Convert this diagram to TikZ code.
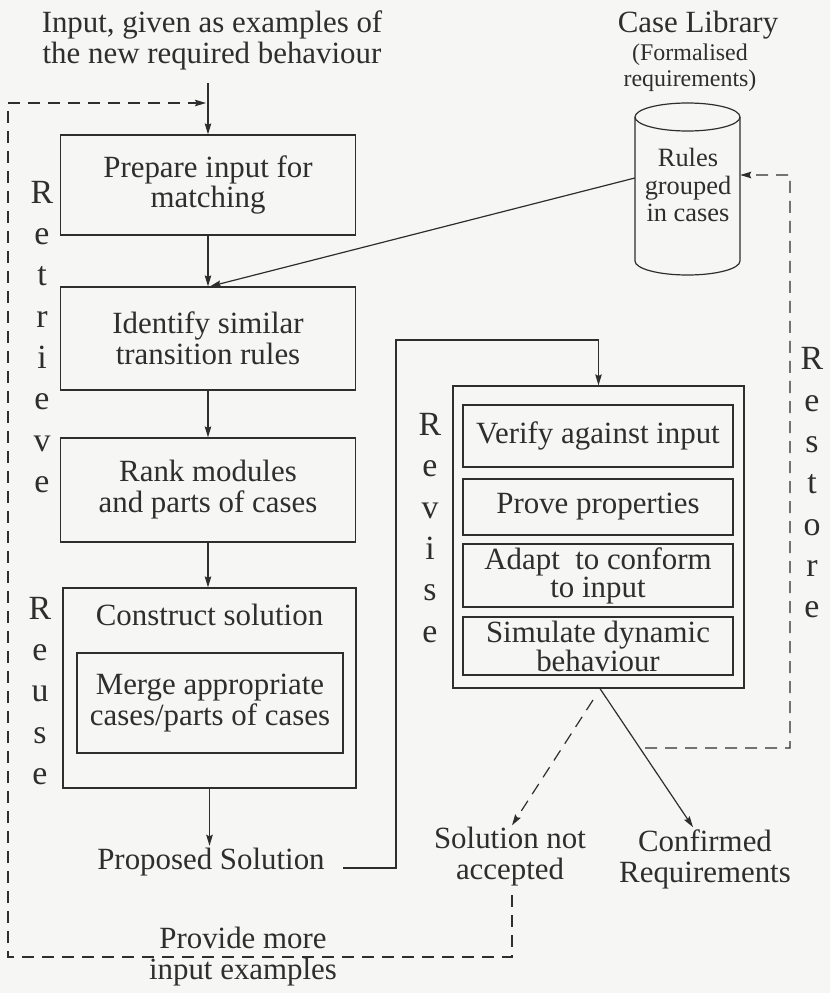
\documentclass[tikz,border=0pt]{standalone}
\usepackage{fontspec}
\setmainfont{Liberation Serif}
\usetikzlibrary{arrows.meta}
\definecolor{ink}{HTML}{2E2E2E}
\definecolor{paper}{HTML}{F6F6F4}
\newcommand\mainfont{\fontsize{31}{31}\selectfont}
\newcommand\letterfont{\fontsize{34}{41.5}\selectfont}
\begin{document}
\begin{tikzpicture}[x=1bp,y=-1bp,
  every node/.style={text=ink, font=\mainfont, align=center},
  box/.style={draw=ink, line width=1.2bp, inner sep=0pt},
  label/.style={inner sep=2bp},
  stack/.style={font=\letterfont, inner sep=0pt},
  conn/.style={draw=ink, line width=1.2bp},
  tip/.style={-{Stealth[length=11bp, width=6.5bp, inset=1.5bp]}},
  arr/.style={conn, tip},
  loop/.style={conn, dash pattern=on 12bp off 8bp}]
  \fill[paper] (0,0) rectangle (830,993);
  \useasboundingbox (0,0) rectangle (830,993);

  % input text and case library
  \node[label] (input) at (212,40) {Input, given as examples of\\the new required behaviour};
  \node[label] (lib) at (698,25) {Case Library};
  \node[label, font=\fontsize{24}{26}\selectfont] (libsub) at (690,68) {(Formalised\\requirements)};

  % the case library drawn as a cylinder
  \draw[conn] (635,117) -- (635,261) arc[start angle=180, end angle=0, x radius=52.5, y radius=14] -- (740,117);
  \draw[conn] (687.5,117) ellipse[x radius=52.5, y radius=14];
  \node[minimum width=105bp, minimum height=144bp, inner sep=0pt] (cyl) at (687.5,189) {};
  \node[font=\fontsize{26.5}{27.5}\selectfont] (rules) at (688,185) {Rules\\grouped\\in cases};

  % retrieve and reuse steps
  \node[box, minimum width=295bp, minimum height=100bp] (prep) at (208,185) {Prepare input for\\matching};
  \node[box, minimum width=295bp, minimum height=103bp] (ident) at (208,338.5) {Identify similar\\transition rules};
  \node[box, minimum width=295bp, minimum height=104bp] (rank) at (208,490) {Rank modules\\and parts of cases};
  \node[box, minimum width=293bp, minimum height=200bp] (cons) at (209.5,688) {};
  \node (constext) at (209.5,615) {Construct solution};
  \node[box, minimum width=266bp, minimum height=100bp] (merge) at (210,703) {Merge appropriate\\cases/parts of cases};
  \node[label] (prop) at (211,862) {Proposed Solution};

  % revise steps
  \node[box, minimum width=291bp, minimum height=302bp] (rev) at (598.5,537) {};
  \node[box, minimum width=270bp, minimum height=62bp] (verify) at (598,436) {Verify against input};
  \node[box, minimum width=270bp, minimum height=56bp] (prove) at (598,507) {Prove properties};
  \node[box, minimum width=270bp, minimum height=63bp, font=\fontsize{31}{26}\selectfont] (adapt) at (598,575.5) {Adapt \ to conform\\to input};
  \node[box, minimum width=270bp, minimum height=58bp, font=\fontsize{31}{23}\selectfont] (sim) at (598,646) {Simulate dynamic\\behaviour};

  % outcomes
  \node[label] (rej) at (510,857) {Solution not\\accepted};
  \node[label] (conf) at (705,859) {Confirmed\\Requirements};
  \node[label] (more) at (243,957) {Provide more\\input examples};

  % phase names
  \node[stack] (retrieve) at (42,337) {R\\e\\t\\r\\i\\e\\v\\e};
  \node[stack] (reuse) at (40,691) {R\\e\\u\\s\\e};
  \node[stack] (revise) at (430,528) {R\\e\\v\\i\\s\\e};
  \node[stack] (restore) at (812,483) {R\\e\\s\\t\\o\\r\\e};

  % main flow
  \coordinate (inTop) at (208,83);
  \draw[arr] (inTop) -- (prep.north);
  \draw[arr] (prep.south) -- (ident.north);
  \draw[arr] ([yshift=11bp]cyl.west) -- ([xshift=2bp]ident.north);
  \draw[arr] (ident.south) -- (rank.north);
  \draw[arr] (rank.south) -- (rank.south |- cons.north);
  \draw[arr] (cons.south) -- (cons.south |- prop.north);
  \coordinate (propOut) at (343,868);
  \coordinate (upCorner) at (396,340);
  \draw[arr] (propOut) -| (upCorner) -| (rev.north);

  % results of revising
  \coordinate (revOut) at (593,700);
  \draw[arr, dash pattern=on 12bp off 8bp] (revOut) -- ([xshift=2bp]rej.north);
  \draw[arr] ([xshift=1.5bp]rev.south) -- ([xshift=-12bp]conf.north);

  % loop back for more input examples
  \coordinate (rejOut) at (512,895);
  \coordinate (loopEnd) at (206,103);
  \draw[loop, tip] (rejOut) -- (512,957) -- (8,957) -- (8,103) -- (loopEnd);

  % restore confirmed requirements into the library
  \coordinate (confLine) at (645,748);
  \draw[loop, tip] (confLine) -- (790,748) -- (790,175) -- ([yshift=14bp]cyl.east);
\end{tikzpicture}
\end{document}
